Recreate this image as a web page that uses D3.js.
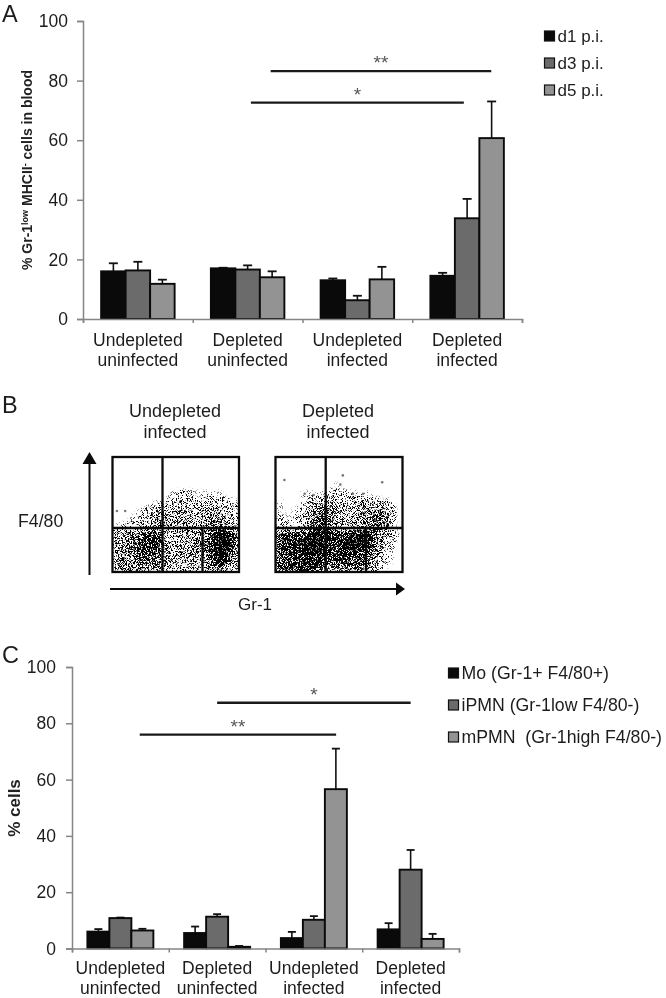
<!DOCTYPE html>
<html>
<head>
<meta charset="utf-8">
<script src="https://d3js.org/d3.v7.min.js"></script>
<style>
body { margin: 0; background: #fff; }
svg { display: block; font-family: "Liberation Sans", Arial, sans-serif; filter: blur(0.4px); }
</style>
</head>
<body>
<div id="canvas"></div>
<script>
"use strict";

// panel A
const groupsA = ["Undepleted|uninfected", "Depleted|uninfected", "Undepleted|infected", "Depleted|infected"];
const seriesA = ["d1 p.i.", "d3 p.i.", "d5 p.i."];
const valuesA = [
    [16, 17, 13, 14.5],
    [16.3, 16.6, 6.3, 33.8],
    [11.8, 14, 13.3, 60.7]
];
const upperA = [
    [18.7, 17.2, 13.6, 15.5],
    [19.2, 18, 7.8, 40.3],
    [13.2, 16, 17.5, 73]
];
// significance bars: label, level on the y axis, start and end in group units
const sigA = [
    ["**", 83.2, 1.71, 3.72],
    ["*", 72.6, 1.53, 3.47]
];

// panel C
const groupsC = groupsA;
const seriesC = ["Mo (Gr-1+ F4/80+)", "iPMN (Gr-1low F4/80-)", "mPMN  (Gr-1high F4/80-)"];
const valuesC = [
    [6, 5.5, 3.7, 6.8],
    [10.8, 11.3, 10.2, 28],
    [6.4, 0.6, 56.6, 3.4]
];
const upperC = [
    [6.9, 7.8, 5.9, 9],
    [11, 12.2, 11.5, 35],
    [7, 0.9, 71, 5.2]
];
const sigC = [
    ["*", 87.3, 1.5, 3.5],
    ["**", 76, 0.7, 2.73]
];

const yTicks = [0, 20, 40, 60, 80, 100];
const barColors = ["#0a0a0a", "#6b6b6b", "#939393"];

// panel B: dot density read by eye on a 16 x 14 grid, 0 empty to 9 solid
const densityUndepleted = [
    [0,0,0,0,0,0,0,0,0,0,0,0,0,0,0,0],
    [0,0,0,0,0,0,0,0,0,0,0,0,0,0,0,0],
    [0,0,0,0,0,0,0,0,0,0,0,0,0,0,0,0],
    [0,0,0,0,0,0,0,0,0,0,0,0,0,0,0,0],
    [0,0,0,0,0,0,0,1,2,2,1,1,1,1,0,0],
    [0,0,0,0,0,1,1,2,3,3,2,2,3,3,2,1],
    [0,0,0,1,2,3,3,3,4,4,3,3,4,4,3,2],
    [0,0,1,2,3,4,4,4,4,4,4,4,5,5,4,2],
    [1,2,2,2,3,4,4,4,4,4,4,4,5,5,4,2],
    [4,4,4,6,7,7,4,3,3,3,4,5,7,9,9,6],
    [4,5,5,7,8,8,5,3,3,4,5,5,8,9,9,6],
    [5,5,5,7,8,7,5,3,4,4,5,5,7,9,9,5],
    [5,5,5,6,6,6,5,3,3,4,4,4,6,9,7,4],
    [4,5,5,5,5,5,5,2,3,3,3,3,5,6,4,3]
];
const densityDepleted = [
    [0,0,0,0,0,0,0,0,0,0,0,0,0,0,0,0],
    [0,0,0,0,0,0,0,0,0,0,0,0,0,0,0,0],
    [0,0,0,0,0,0,0,0,0,0,0,0,0,0,0,0],
    [0,0,0,0,0,0,0,1,0,0,0,0,0,0,0,0],
    [0,0,0,1,1,1,1,2,2,1,1,1,0,0,0,0],
    [1,0,0,1,3,4,4,3,2,2,3,3,3,2,1,0],
    [1,0,1,2,4,6,6,4,3,3,4,5,5,5,3,0],
    [2,1,1,3,5,6,7,4,3,3,4,5,6,6,3,0],
    [1,2,2,3,5,6,6,4,3,4,4,5,6,6,2,0],
    [7,7,8,8,9,9,8,7,8,8,9,9,6,4,2,1],
    [7,8,8,9,9,9,8,7,8,9,9,9,6,3,2,0],
    [7,8,8,8,9,9,7,7,8,8,8,7,5,2,1,0],
    [7,7,7,7,8,8,6,6,7,7,7,6,4,2,1,0],
    [6,7,7,7,7,7,5,6,6,6,6,5,3,1,0,0]
];
// isolated events, as fractions of the plot width and height
const strayUndepleted = [[0.035, 0.47], [0.10, 0.47]];
const strayDepleted = [
    [0.07, 0.2], [0.53, 0.16], [0.51, 0.24], [0.84, 0.22],
    [0.61, 0.32], [0.69, 0.32], [0.30, 0.33], [0.23, 0.32]
];

const svg = d3.select("#canvas")
    .append("svg")
    .attr("width", 666)
    .attr("height", 998);

function twoLines(sel, label, x, y, gap, size) {
    sel.append("text")
        .attr("x", x).attr("y", y)
        .attr("text-anchor", "middle")
        .attr("font-size", size)
        .attr("fill", "#1c1c1c")
        .text(label.split("|")[0]);
    sel.append("text")
        .attr("x", x).attr("y", y + gap)
        .attr("text-anchor", "middle")
        .attr("font-size", size)
        .attr("fill", "#1c1c1c")
        .text(label.split("|")[1]);
}

function barChart(o) {
    const y = d3.scaleLinear().domain([0, 100]).range([o.bottom, o.top]);
    const edge = d3.scaleLinear().domain([0, 4]).range([o.left, o.right]);
    const x0 = d3.scaleBand().domain(o.groups).range([o.left, o.right]);
    const x1 = d3.scaleBand().domain(d3.range(3))
        .range([x0.bandwidth() / 2 - o.barW * 1.5, x0.bandwidth() / 2 + o.barW * 1.5]);

    const g = svg.append("g");

    o.values.forEach((vals, s) => {
        vals.forEach((v, i) => {
            const cx = x0(o.groups[i]) + x1(s) + x1.bandwidth() / 2;
            g.append("line")
                .attr("x1", cx).attr("x2", cx)
                .attr("y1", y(v)).attr("y2", y(o.upper[s][i]))
                .attr("stroke", "#111").attr("stroke-width", 1.6);
            g.append("line")
                .attr("x1", cx - o.cap).attr("x2", cx + o.cap)
                .attr("y1", y(o.upper[s][i])).attr("y2", y(o.upper[s][i]))
                .attr("stroke", "#111").attr("stroke-width", 1.8);
            g.append("rect")
                .attr("x", x0(o.groups[i]) + x1(s))
                .attr("y", y(v))
                .attr("width", x1.bandwidth())
                .attr("height", y(0) - y(v))
                .attr("fill", barColors[s])
                .attr("stroke", "#0a0a0a")
                .attr("stroke-width", 1.9);
        });
    });

    const yAxis = g.append("g")
        .attr("transform", `translate(${o.left},0)`)
        .call(d3.axisLeft(y).tickValues(yTicks).tickSize(6).tickPadding(o.tickPad));
    const xAxis = g.append("g")
        .attr("transform", `translate(0,${o.bottom})`)
        .call(d3.axisBottom(edge).tickValues([0, 1, 2, 3, 4]).tickSize(4).tickFormat(""));
    [yAxis, xAxis].forEach(a => {
        a.selectAll("path, line").attr("stroke", "#858585").attr("stroke-width", 1.5);
    });
    yAxis.selectAll("text")
        .attr("font-size", 17.5)
        .attr("font-family", "Liberation Sans")
        .attr("fill", "#1c1c1c");

    o.groups.forEach(name => {
        twoLines(g, name, x0(name) + x0.bandwidth() / 2, o.labelY, 20, 17.5);
    });

    o.sig.forEach(s => {
        g.append("line")
            .attr("x1", edge(s[2])).attr("x2", edge(s[3]))
            .attr("y1", y(s[1])).attr("y2", y(s[1]))
            .attr("stroke", "#1a1a1a").attr("stroke-width", 2.3);
        g.append("text")
            .attr("x", (edge(s[2]) + edge(s[3])) / 2)
            .attr("y", y(s[1]) - 2)
            .attr("text-anchor", "middle")
            .attr("font-size", 19)
            .attr("fill", "#555")
            .text(s[0]);
    });

    o.series.forEach((name, s) => {
        const ly = o.legendY + s * o.legendGap;
        g.append("rect")
            .attr("x", o.legendX).attr("y", ly - 5)
            .attr("width", 10).attr("height", 10)
            .attr("fill", barColors[s])
            .attr("stroke", "#111").attr("stroke-width", 1.2);
        g.append("text")
            .attr("x", o.legendX + 13).attr("y", ly + 6)
            .attr("font-size", o.legendSize)
            .attr("fill", "#1c1c1c")
            .style("white-space", "pre")
            .text(name);
    });
}

barChart({
    groups: groupsA, series: seriesA, values: valuesA, upper: upperA, sig: sigA,
    left: 83, right: 522, top: 21, bottom: 319, barW: 24.5, cap: 4.5, tickPad: 9,
    labelY: 346, legendX: 544.5, legendY: 36, legendGap: 27, legendSize: 17
});
barChart({
    groups: groupsC, series: seriesC, values: valuesC, upper: upperC, sig: sigC,
    left: 72, right: 459, top: 667, bottom: 948.5, barW: 22, cap: 4, tickPad: 10,
    labelY: 974, legendX: 448.5, legendY: 673, legendGap: 32, legendSize: 17.7
});

// y titles
const titleA = svg.append("text")
    .attr("transform", "translate(32,170) rotate(-90)")
    .attr("text-anchor", "middle")
    .attr("font-size", 14)
    .attr("font-weight", "bold")
    .attr("fill", "#222");
titleA.append("tspan").text("% Gr-1");
titleA.append("tspan").attr("font-size", 9).attr("dy", -4).text("low");
titleA.append("tspan").attr("dy", 4).text(" MHCII");
titleA.append("tspan").attr("font-size", 9).attr("dy", -4).text("-");
titleA.append("tspan").attr("dy", 4).text(" cells in blood");

svg.append("text")
    .attr("transform", "translate(20,808) rotate(-90)")
    .attr("text-anchor", "middle")
    .attr("font-size", 17)
    .attr("font-weight", "bold")
    .attr("fill", "#222")
    .text("% cells");

// panel letters
[["A", 21.5], ["B", 413], ["C", 663]].forEach(d => {
    svg.append("text")
        .attr("x", 2).attr("y", d[1])
        .attr("font-size", 23.5)
        .attr("fill", "#1c1c1c")
        .text(d[0]);
});

// the grain is only a rendering of the density grid, it carries no values
const defs = svg.append("defs");
const grain = defs.append("filter").attr("id", "grain")
    .attr("x", 0).attr("y", 0).attr("width", 1).attr("height", 1)
    .attr("color-interpolation-filters", "sRGB");
grain.append("feGaussianBlur").attr("in", "SourceAlpha").attr("stdDeviation", 2.5).attr("result", "soft");
// lift the low densities so sparse regions still show dots
grain.append("feComponentTransfer").attr("in", "soft").attr("result", "dens")
    .append("feFuncA").attr("type", "table").attr("tableValues", "0 0.34 0.46 0.58 0.8 1");
grain.append("feTurbulence").attr("type", "fractalNoise").attr("baseFrequency", 1.2)
    .attr("numOctaves", 2).attr("seed", 4).attr("result", "turb");
grain.append("feColorMatrix").attr("in", "turb").attr("type", "matrix")
    .attr("values", "0 0 0 0 0  0 0 0 0 0  0 0 0 0 0  3.2 0 0 0 -1.1").attr("result", "noise");
grain.append("feComposite").attr("in", "dens").attr("in2", "noise").attr("operator", "arithmetic")
    .attr("k1", 0).attr("k2", 1.15).attr("k3", 1).attr("k4", -1.05).attr("result", "mix");
grain.append("feComponentTransfer").attr("in", "mix")
    .append("feFuncA").attr("type", "linear").attr("slope", 4).attr("intercept", 0);

function flowPlot(density, stray, left, right, splitX, lowSplitX) {
    const top = 457, bottom = 572, splitY = 528;
    const col = d3.scaleBand().domain(d3.range(16)).range([left, right]);
    const row = d3.scaleBand().domain(d3.range(14)).range([top, bottom]);
    const fx = d3.scaleLinear().domain([0, 1]).range([left, right]);
    const fy = d3.scaleLinear().domain([0, 1]).range([top, bottom]);

    const cells = svg.append("g").attr("filter", "url(#grain)");
    density.forEach((r, j) => {
        r.forEach((v, i) => {
            cells.append("rect")
                .attr("x", col(i)).attr("y", row(j))
                .attr("width", col.bandwidth() + 0.5)
                .attr("height", row.bandwidth() + 0.5)
                .attr("fill", "#000")
                .attr("fill-opacity", v / 9);
        });
    });

    svg.append("g").selectAll("circle")
        .data(stray)
        .join("circle")
        .attr("cx", d => fx(d[0]))
        .attr("cy", d => fy(d[1]))
        .attr("r", 1.3)
        .attr("fill", "#777");

    svg.append("rect")
        .attr("x", left).attr("y", top)
        .attr("width", right - left).attr("height", bottom - top)
        .attr("fill", "none").attr("stroke", "#0a0a0a").attr("stroke-width", 2.3);
    [[splitX, top, splitX, bottom], [left, splitY, right, splitY], [lowSplitX, splitY, lowSplitX, bottom]]
        .forEach(l => {
            svg.append("line")
                .attr("x1", l[0]).attr("y1", l[1]).attr("x2", l[2]).attr("y2", l[3])
                .attr("stroke", "#0a0a0a").attr("stroke-width", 2.3);
        });
}

flowPlot(densityUndepleted, strayUndepleted, 112.5, 239, 162.5, 202.5);
flowPlot(densityDepleted, strayDepleted, 275.5, 402.5, 325.7, 366);

twoLines(svg, "Undepleted|infected", 175, 417, 21, 18);
twoLines(svg, "Depleted|infected", 338, 417, 21, 18);

svg.append("text").attr("x", 18).attr("y", 527)
    .attr("font-size", 17.7).attr("fill", "#1c1c1c").text("F4/80");
svg.append("text").attr("x", 255).attr("y", 610)
    .attr("text-anchor", "middle")
    .attr("font-size", 17).attr("fill", "#1c1c1c").text("Gr-1");

// axis arrows
svg.append("line").attr("x1", 89.5).attr("y1", 575).attr("x2", 89.5).attr("y2", 460)
    .attr("stroke", "#0a0a0a").attr("stroke-width", 2);
svg.append("path").attr("d", "M89.5,452L96.5,464H82.5Z").attr("fill", "#0a0a0a");
svg.append("line").attr("x1", 110).attr("y1", 589).attr("x2", 398).attr("y2", 589)
    .attr("stroke", "#0a0a0a").attr("stroke-width", 2);
svg.append("path").attr("d", "M405,589L396,582.5V595.5Z").attr("fill", "#0a0a0a");
</script>
</body>
</html>
